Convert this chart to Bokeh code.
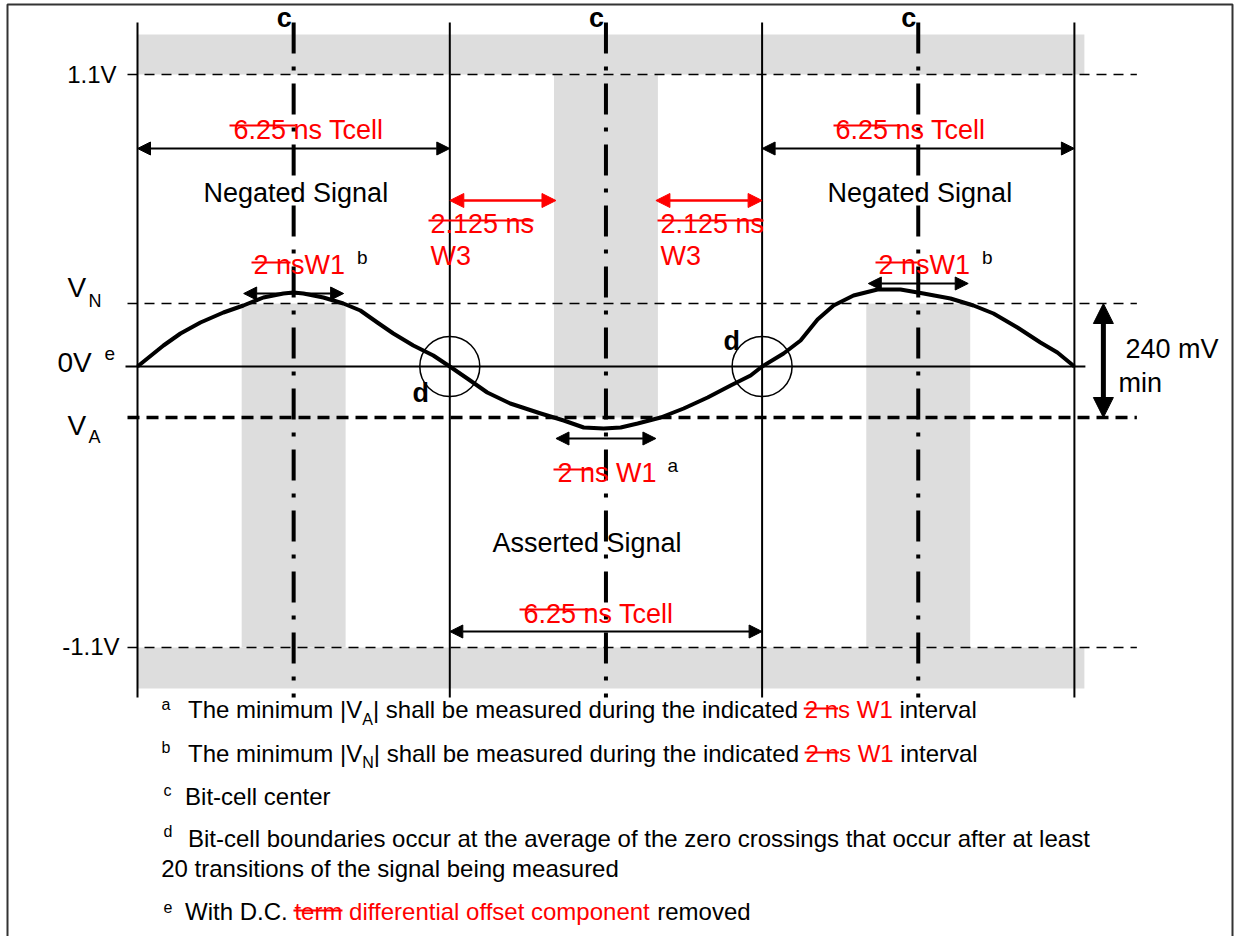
from bokeh.plotting import figure
from bokeh.models import Range1d, Label, Arrow, NormalHead, ColumnDataSource
from bokeh.embed import file_html
from bokeh.resources import INLINE

FONT = "Liberation Sans"
RED = "#FF0000"
GREY = "#DDDDDD"

# ---------------- data ----------------
cell_ns = 6.25
boundaries_ns = [0.0, 6.25, 12.5, 18.75]          # bit-cell boundaries (d)
centers_ns = [3.125, 9.375, 15.625]               # bit-cell centers (c)
w1_ns = 2.0                                       # W1 window
w3_ns = 2.125                                     # W3 window
mask_half_ns = 1.04                               # half width of grey W1 mask columns
level_names = ["1.1V", "VN", "0V", "VA", "-1.1V"]
level_pos = [292, 63, 0, -51, -281]               # diagram units (not to scale)

wave_ns = [0.00, 0.52, 0.86, 1.26, 1.72, 2.12, 2.52, 2.92, 3.12, 3.32, 3.72, 4.12, 4.46, 4.80,
           5.12, 5.52, 5.92, 6.25,
           6.60, 7.00, 7.46, 8.07, 8.53, 8.93, 9.33, 9.67, 10.01, 10.47, 10.93, 11.41, 11.87,
           12.27, 12.50,
           12.93, 13.27, 13.61, 13.93, 14.33, 14.81, 15.27, 15.73, 16.27, 16.73, 17.13, 17.61,
           18.07, 18.41, 18.75]
wave_lvl = [0, 21, 33, 44, 54, 61, 69, 73, 74, 73, 69, 63, 56, 44,
            33, 21, 11, 0,
            -12, -26, -37, -47, -54, -61, -62, -61, -57, -51, -42, -31, -19,
            -9, 0,
            13, 26, 47, 61, 71, 77, 77, 73, 68, 61, 53, 39,
            24, 14, 0]

# ---------------- figure ----------------
SX = 312.3 / cell_ns          # px per ns
PX0, PY0 = 137.0, 366.0       # page position of (0 ns, 0 V)
W, H = 1234, 936
x0 = -PX0 / SX
p = figure(width=W, height=H, x_range=Range1d(x0, x0 + W / SX),
           y_range=Range1d(PY0 - H, PY0),
           output_backend="svg", toolbar_location=None, min_border=0,
           x_axis_location=None, y_axis_location=None)
p.grid.visible = False
p.outline_line_color = None
p.background_fill_color = "white"
p.border_fill_color = "white"


def dx(px):
    return (px - PX0) / SX


def dy(py):
    return PY0 - py


# outer frame of the figure box
p.quad(left=[dx(7)], right=[dx(1232)], top=[dy(4)], bottom=[dy(950)],
       fill_color=None, line_color="#333333", line_width=2)

top_v, vn, zero, va, bot_v = level_pos

# grey mask regions
band_right = boundaries_ns[-1] + 0.2
p.quad(left=[boundaries_ns[0]] * 2, right=[band_right] * 2,
       bottom=[top_v, bot_v - 41], top=[top_v + 40, bot_v],
       fill_color=GREY, line_color=None)
p.quad(left=[c - mask_half_ns for c in centers_ns], right=[c + mask_half_ns for c in centers_ns],
       bottom=[bot_v, va, bot_v], top=[vn, top_v, vn],
       fill_color=GREY, line_color=None)

# horizontal level lines
xl, xr = -0.2, 20.0
thin = [top_v, vn, bot_v]
p.segment(x0=[xl] * 3, y0=thin, x1=[xr] * 3, y1=thin, line_color="black",
          line_width=1.5, line_dash="10 7")
p.segment(x0=[xl], y0=[va], x1=[xr], y1=[va], line_color="black", line_width=3.5, line_dash="12 7")
p.segment(x0=[-0.24], y0=[zero], x1=[boundaries_ns[-1] + 0.22], y1=[zero], line_color="black", line_width=2)

# vertical boundary lines and center dash-dot lines
ytop, ybot = 344, -331
p.segment(x0=boundaries_ns, y0=[ytop] * 4, x1=boundaries_ns, y1=[ybot] * 4,
          line_color="black", line_width=2)
p.segment(x0=centers_ns, y0=[ytop] * 3, x1=centers_ns, y1=[ybot] * 3,
          line_color="black", line_width=4, line_dash="31 13 4 13")

# waveform
p.line(wave_ns, wave_lvl, line_color="black", line_width=4, line_join="round")

# zero-crossing circles
p.scatter(x=boundaries_ns[1:3], y=[zero, zero], marker="circle", size=60,
          fill_color=None, line_color="black", line_width=1.5)


# arrows
def arrows(xs0, ys0, xs1, ys1, color, lw, hs):
    src = ColumnDataSource(dict(x0=xs0, y0=ys0, x1=xs1, y1=ys1))
    p.add_layout(Arrow(start=NormalHead(size=hs, fill_color=color, line_color=color, line_width=1),
                       end=NormalHead(size=hs, fill_color=color, line_color=color, line_width=1),
                       x_start="x0", y_start="y0", x_end="x1", y_end="y1", source=src,
                       line_color=color, line_width=lw))


tcell_y = [218, -265, 218]
arrows(boundaries_ns[:3], tcell_y, boundaries_ns[1:], tcell_y, "black", 2, 13)
w1_y = [73, -72, 83]
arrows([c - w1_ns / 2 for c in centers_ns], w1_y, [c + w1_ns / 2 for c in centers_ns], w1_y, "black", 2, 13)
arrows([boundaries_ns[1], boundaries_ns[2] - w3_ns], [166, 166],
       [boundaries_ns[1] + w3_ns, boundaries_ns[2]], [166, 166], RED, 2.5, 14)
arrows([boundaries_ns[-1] + 0.58], [vn], [boundaries_ns[-1] + 0.58], [va], "black", 5, 20)

# ---------------- text ----------------
ADV = {' ': 278, '|': 260, '-': 333, '.': 278, ',': 278,
       'A': 667, 'B': 667, 'C': 722, 'D': 722, 'E': 667, 'N': 722, 'S': 667, 'T': 611, 'V': 667, 'W': 944,
       'a': 556, 'b': 556, 'c': 500, 'd': 556, 'e': 556, 'f': 278, 'g': 556, 'h': 556, 'i': 222,
       'j': 222, 'k': 500, 'l': 222, 'm': 833, 'n': 556, 'o': 556, 'p': 556, 'q': 556, 'r': 333,
       's': 500, 't': 278, 'u': 556, 'v': 500, 'w': 722, 'x': 500, 'y': 500, 'z': 500}
BASE_FIX = 0.37   # measured shift of the svg alphabetic baseline, in em


def tw(s, size):
    return sum(ADV.get(ch, 556) for ch in s) * size / 1000.0


def lab(px, py, text, size, color="black", bold=False, align="left"):
    p.add_layout(Label(x=dx(px), y=dy(py - BASE_FIX * size), text=text, text_font=FONT,
                       text_font_size=f"{size}px", text_color=color,
                       text_font_style="bold" if bold else "normal",
                       text_align=align, text_baseline="alphabetic"))


def strike(px0, px1, py, lw=2):
    p.segment(x0=[dx(px0)], y0=[dy(py)], x1=[dx(px1)], y1=[dy(py)], line_color=RED, line_width=lw)


# c labels
for c in centers_ns:
    lab(PX0 + c * SX - 2, 27, "c", 27, bold=True, align="right")

# level labels
lab(116, 83, "1.1V", 24, align="right")
lab(119, 655, "-1.1V", 24, align="right")
lab(67, 297, "V", 28)
lab(88, 307, "N", 18)
lab(57, 372, "0V", 28)
lab(104, 360, "e", 19)
lab(67, 435, "V", 28)
lab(88, 443, "A", 18)

# Tcell labels
for sx, by, s0, s1, sy in [(233, 139, 229, 295, 125), (835, 139, 833, 900, 125), (523, 623, 519, 593, 609)]:
    lab(sx, by, "6.25 ns Tcell", 27, RED)
    strike(s0, s1, sy)

lab(203, 202, "Negated Signal", 27)
lab(827, 202, "Negated Signal", 27)
lab(492, 552, "Asserted Signal", 27)

# W3 labels
for sx in (430, 660):
    lab(sx, 233, "2.125 ns", 27, RED)
    lab(sx, 265, "W3", 27, RED)
strike(428, 533, 220)
strike(657, 763, 220)

# W1 labels
for sx, s0, s1 in [(253, 251, 290), (878, 875, 917)]:
    lab(sx, 274, "2 nsW1", 27, RED)
    strike(s0, s1, 262)
    lab(sx + tw("2 nsW1", 27) + 12, 264, "b", 19)
lab(557, 482, "2 ns W1", 27, RED)
strike(553, 592, 469)
lab(667, 472, "a", 19)

# d labels
lab(412, 402, "d", 27, bold=True)
lab(723, 350, "d", 27, bold=True)

# 240 mV
lab(1125, 358, "240 mV", 27)
lab(1118, 392, "min", 27)

# ---------------- footnotes ----------------
K = "black"


def rich(px, py, parts):
    x = px
    for text, size, color, off, nstrike in parts:
        body = text.lstrip(" ")
        xs = x + tw(text[:len(text) - len(body)], size)
        lab(xs, py + off, body, size, color)
        if nstrike:
            strike(xs - 1, xs + tw(body[:nstrike], size), py - 10, 1.8)
        x += tw(text, size)


lab(161, 710, "a", 16)
rich(187.5, 718, [("The minimum |V", 24, K, 0, 0), ("A", 16, K, 7, 0),
                  ("| shall be measured during the indicated ", 24, K, 0, 0),
                  ("2 ns", 24, RED, 0, 3), (" W1", 24, RED, 0, 0), (" interval", 24, K, 0, 0)])
lab(161, 753, "b", 16)
rich(187.5, 762, [("The minimum |V", 24, K, 0, 0), ("N", 16, K, 6, 0),
                  ("| shall be measured during the indicated ", 24, K, 0, 0),
                  ("2 ns", 24, RED, 0, 3), (" W1", 24, RED, 0, 0), (" interval", 24, K, 0, 0)])
lab(163, 796, "c", 16)
lab(184.6, 805, "Bit-cell center", 24)
lab(163, 837, "d", 16)
lab(187.5, 847, "Bit-cell boundaries occur at the average of the zero crossings that occur after at least", 24)
lab(160.7, 877, "20 transitions of the signal being measured", 24)
lab(163, 912, "e", 16)
rich(184.6, 920, [("With D.C. ", 24, K, 0, 0), ("term", 24, RED, 0, 4),
                  (" differential offset component", 24, RED, 0, 0), (" removed", 24, K, 0, 0)])

open("out.html", "w").write(file_html(p, INLINE))
